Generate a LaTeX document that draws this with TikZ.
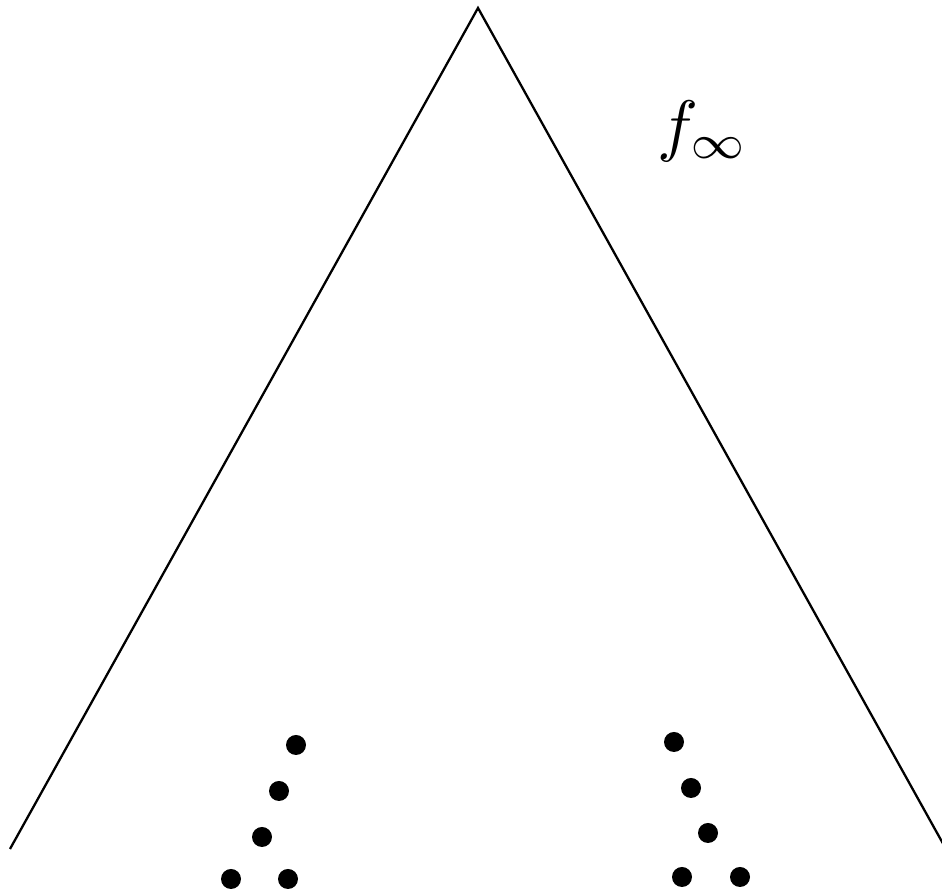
\documentclass[tikz,border=0pt]{standalone}
\usepackage{amsmath, amssymb}
\usepackage{tikz}

\begin{document}
\begin{tikzpicture}
\useasboundingbox (0,0) rectangle (18.84,17.88);
% Tree outline
\coordinate (top) at (9.56,17.72);
\coordinate (bl) at (0.20,0.90);
\coordinate (br) at (18.92,0.90);
\draw[line width=1.3pt] (bl) -- (top) -- (br);
% Label
\node[scale=3.9] (flabel) at (14.06,15.26) {$f_{\infty}$};
% Dots, left branch
\foreach \x/\y in {5.92/2.98, 5.58/2.06, 5.24/1.14, 4.62/0.30, 5.76/0.30} {\fill (\x,\y) circle (0.2);}
% Dots, right branch
\foreach \x/\y in {13.48/3.04, 13.82/2.12, 14.16/1.22, 13.64/0.34, 14.80/0.34} {\fill (\x,\y) circle (0.2);}
\end{tikzpicture}
\end{document}
